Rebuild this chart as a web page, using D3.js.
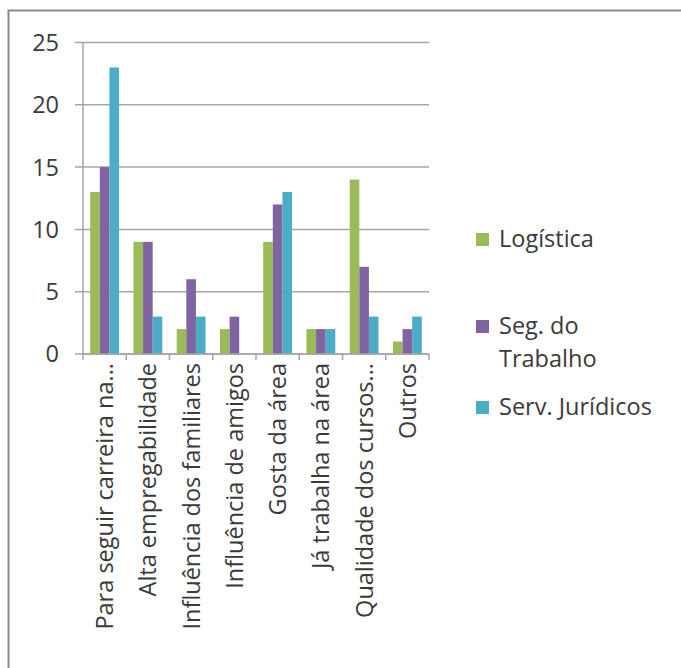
<!DOCTYPE html>
<html>
<head>
<meta charset="utf-8">
<script src="https://cdn.jsdelivr.net/npm/d3@7"></script>
<style>
  html, body { margin: 0; padding: 0; background: #fff; }
  svg { display: block; }
  text { font-family: "Open Sans", sans-serif; fill: #3a3a3a; }
</style>
</head>
<body>
<svg id="chart" width="681" height="668"></svg>
<script>
const categories = [
  "Para seguir carreira na...",
  "Alta empregabilidade",
  "Influência dos familiares",
  "Influência de amigos",
  "Gosta da área",
  "Já trabalha na área",
  "Qualidade dos cursos...",
  "Outros"
];
const seriesNames = ["Logística", "Seg. do Trabalho", "Serv. Jurídicos"];
const logistica = [13, 9, 2, 2, 9, 2, 14, 1];
const segTrabalho = [15, 9, 6, 3, 12, 2, 7, 2];
const servJuridicos = [23, 3, 3, 0, 13, 2, 3, 3];
const seriesValues = [logistica, segTrabalho, servJuridicos];
const colors = ["#9BBB59", "#8064A2", "#4BACC6"];
const yTicks = [0, 5, 10, 15, 20, 25];

(function () {
const svg = d3.select("#chart");
const fontSize = 23.5;

// frame
svg.append("rect")
  .attr("x", 8.5).attr("y", 10.5)
  .attr("width", 720).attr("height", 720)
  .attr("fill", "#fff")
  .attr("stroke", "#8a8a8a").attr("stroke-width", 2);

const plotLeft = 83, plotRight = 429, plotTop = 42.5, plotBottom = 354;

const x0 = d3.scaleBand().domain(categories).range([plotLeft, plotRight]).paddingInner(0).paddingOuter(0);
const x1 = d3.scaleBand().domain(seriesNames).range([0, x0.bandwidth()]).paddingInner(0).paddingOuter(0.75);
const y = d3.scaleLinear().domain([0, 25]).range([plotBottom, plotTop]);

// gridlines + y labels
const g = svg.append("g");
g.selectAll("line.grid").data(yTicks).enter().append("line")
  .attr("x1", plotLeft - 8).attr("x2", plotRight)
  .attr("y1", d => y(d)).attr("y2", d => y(d))
  .attr("stroke", "#a6a6a6").attr("stroke-width", 1.5);
g.selectAll("text.ylab").data(yTicks).enter().append("text")
  .attr("x", 59).attr("y", d => y(d))
  .attr("dy", "0.36em")
  .attr("text-anchor", "end")
  .style("font-size", fontSize + "px")
  .text(d => d);

// y axis line
g.append("line")
  .attr("x1", plotLeft).attr("x2", plotLeft)
  .attr("y1", y(25)).attr("y2", y(0))
  .attr("stroke", "#a6a6a6").attr("stroke-width", 1.5);

// bars
const groups = svg.append("g").selectAll("g").data(categories).enter().append("g")
  .attr("transform", d => `translate(${x0(d)},0)`);
groups.selectAll("rect").data((c, i) => seriesNames.map((s, j) => ({s, v: seriesValues[j][i], j})))
  .enter().append("rect")
  .attr("x", d => x1(d.s))
  .attr("width", x1.bandwidth())
  .attr("y", d => y(d.v))
  .attr("height", d => y(0) - y(d.v))
  .attr("fill", d => colors[d.j]);

// x axis line and ticks
svg.append("line")
  .attr("x1", plotLeft).attr("x2", plotRight)
  .attr("y1", plotBottom).attr("y2", plotBottom)
  .attr("stroke", "#a6a6a6").attr("stroke-width", 1.5);
const boundaries = categories.map(c => x0(c)).concat([plotRight]);
svg.selectAll("line.xt").data(boundaries).enter().append("line")
  .attr("x1", d => d).attr("x2", d => d)
  .attr("y1", plotBottom).attr("y2", plotBottom + 6)
  .attr("stroke", "#a6a6a6").attr("stroke-width", 1.5);

// x labels
svg.selectAll("text.xlab").data(categories).enter().append("text")
  .attr("transform", d => `translate(${x0(d) + x0.bandwidth() / 2},${plotBottom + 9}) rotate(-90)`)
  .attr("dy", "0.36em")
  .attr("text-anchor", "end")
  .style("font-size", fontSize + "px")
  .text(d => d);

// legend
const legendItems = [
  {lines: ["Logística"], y: 247},
  {lines: ["Seg. do", "Trabalho"], y: 334},
  {lines: ["Serv. Jurídicos"], y: 415}
];
const lg = svg.append("g");
legendItems.forEach((it, i) => {
  lg.append("rect")
    .attr("x", 476).attr("y", it.y - 14)
    .attr("width", 13).attr("height", 13)
    .attr("fill", colors[i]);
  const t = lg.append("text")
    .attr("x", 499).attr("y", it.y)
    .style("font-size", fontSize + "px");
  it.lines.forEach((ln, k) => {
    t.append("tspan").attr("x", 499).attr("dy", k === 0 ? 0 : 33).text(ln);
  });
});
})();
</script>
</body>
</html>
